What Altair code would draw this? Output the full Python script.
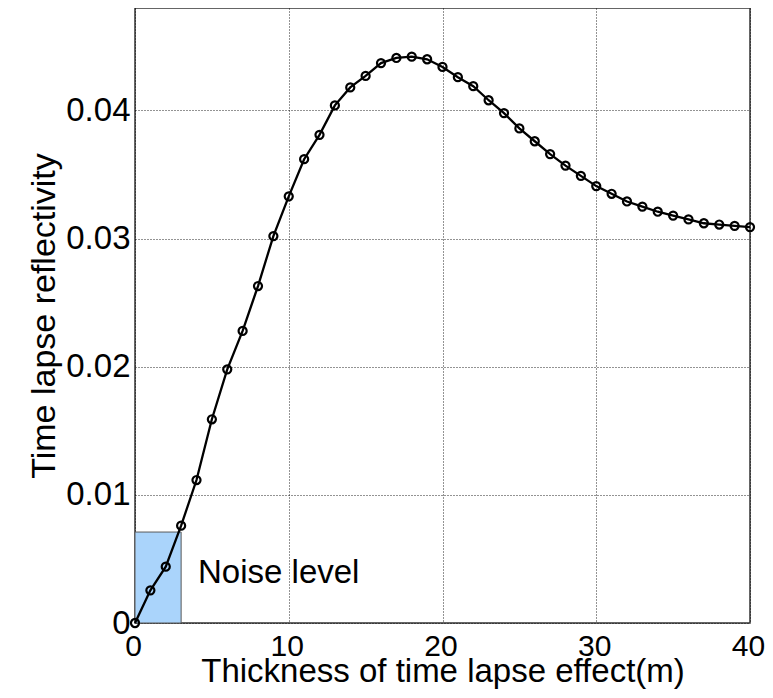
import altair as alt
import pandas as pd

thickness = list(range(0, 41))
reflectivity = [
    0.0, 0.00255, 0.0044, 0.0076, 0.01116, 0.0159, 0.0198, 0.0228, 0.0263, 0.0302,
    0.0333, 0.0362, 0.0381, 0.0404, 0.0418, 0.0427, 0.0437, 0.0441, 0.0442, 0.0440,
    0.0434, 0.0426, 0.0419, 0.0408, 0.0398, 0.0386, 0.0376, 0.0366, 0.0357, 0.0349,
    0.0341, 0.0335, 0.0329, 0.0325, 0.0321, 0.0318, 0.0315, 0.0312, 0.0311, 0.0310,
    0.0309,
]
noise_box_x = [0, 3]
noise_box_y = [0, 0.0071]
noise_label = "Noise level"
noise_label_pos = [4.1, 0.0039]
x_ticks = [0, 10, 20, 30, 40]
y_ticks = [0, 0.01, 0.02, 0.03, 0.04]

df = pd.DataFrame({"x": thickness, "y": reflectivity})
box = pd.DataFrame({"x": [noise_box_x[0]], "x2": [noise_box_x[1]],
                    "y": [noise_box_y[0]], "y2": [noise_box_y[1]]})
lab = pd.DataFrame({"x": [noise_label_pos[0]], "y": [noise_label_pos[1]], "t": [noise_label]})

FONT = "Liberation Sans"

xscale = alt.Scale(domain=[0, 40], nice=False, zero=False)
yscale = alt.Scale(domain=[0, 0.048], nice=False, zero=False)

common = dict(grid=True, gridDash=[1, 2], gridColor="#000000", gridOpacity=0.85,
              gridWidth=1, ticks=False, domain=False, labelColor="#000",
              titleColor="#000", labelFont=FONT, titleFont=FONT,
              titleFontWeight="normal", labelFlush=False)

xaxis = alt.Axis(values=x_ticks, format="d", title="Thickness of time lapse effect(m)",
                 labelFontSize=30, titleFontSize=33, labelPadding=8, titlePadding=-6,
                 labelOffset=-2, **common)
yaxis = alt.Axis(values=y_ticks, format="~g", title="Time lapse reflectivity",
                 labelFontSize=33, titleFontSize=34, labelPadding=5, titlePadding=4,
                 **common)

rect = alt.Chart(box).mark_rect(fill="#aad4fb", stroke="#5a5a5a", strokeWidth=1).encode(
    x=alt.X("x:Q", scale=xscale, axis=xaxis),
    x2="x2:Q",
    y=alt.Y("y:Q", scale=yscale, axis=yaxis),
    y2="y2:Q",
)

line = alt.Chart(df).mark_line(color="black", strokeWidth=2.3).encode(
    x=alt.X("x:Q", scale=xscale),
    y=alt.Y("y:Q", scale=yscale),
)

pts = alt.Chart(df).mark_point(shape="circle", filled=False, color="black",
                               strokeWidth=2.2, size=65, opacity=1).encode(
    x=alt.X("x:Q", scale=xscale),
    y=alt.Y("y:Q", scale=yscale),
)

txt = alt.Chart(lab).mark_text(align="left", baseline="middle", fontSize=33,
                               font=FONT, color="black").encode(
    x=alt.X("x:Q", scale=xscale),
    y=alt.Y("y:Q", scale=yscale),
    text="t:N",
)

chart = (rect + line + pts + txt).properties(
    width=615, height=615,
    autosize=alt.AutoSizeParams(type="none"),
    padding={"left": 127, "top": 0, "right": 15, "bottom": 67},
    background="white",
).configure_view(stroke="#333333", strokeWidth=1.5)

chart.save("out.html", embed_options={"renderer": "svg", "actions": False})
